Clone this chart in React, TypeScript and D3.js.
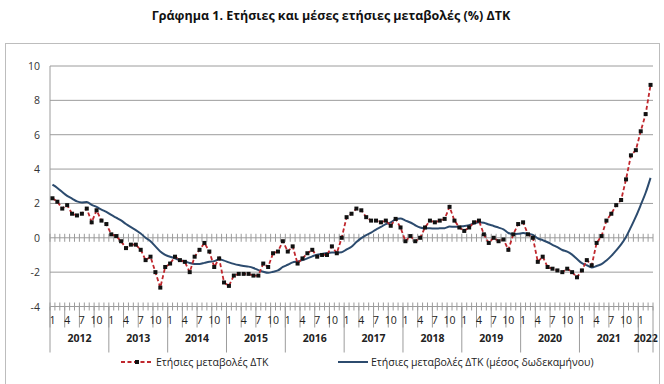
import React from "react";
import * as d3 from "d3";

// Annual % change of CPI, monthly, Jan 2012 - Mar 2022
const years = [2012, 2013, 2014, 2015, 2016, 2017, 2018, 2019, 2020, 2021, 2022];
const monthTickLabels = ["1", "4", "7", "10"];
const yTicks = [-4, -2, 0, 2, 4, 6, 8, 10];

const annualChange = [
  2.3, 2.1, 1.7, 1.9, 1.4, 1.3, 1.4, 1.7, 0.9, 1.6, 1.0, 0.8,
  0.2, 0.1, -0.2, -0.6, -0.4, -0.4, -0.7, -1.3, -1.1, -2.0, -2.9, -1.7,
  -1.5, -1.1, -1.3, -1.4, -2.0, -1.1, -0.7, -0.3, -0.8, -1.7, -1.2, -2.6,
  -2.8, -2.2, -2.1, -2.1, -2.1, -2.2, -2.2, -1.5, -1.7, -0.9, -0.8, -0.2,
  -0.8, -0.5, -1.5, -1.2, -0.9, -0.7, -1.1, -1.0, -1.0, -0.5, -0.9, 0.0,
  1.2, 1.4, 1.7, 1.6, 1.2, 1.0, 1.0, 0.9, 1.0, 0.7, 1.1, 0.6,
  -0.2, 0.1, -0.2, 0.0, 0.6, 1.0, 0.9, 1.0, 1.1, 1.8, 1.0, 0.6,
  0.4, 0.6, 0.9, 1.0, 0.2, -0.3, 0.0, -0.2, -0.1, -0.7, 0.2, 0.8,
  0.9, 0.2, 0.0, -1.4, -1.1, -1.7, -1.8, -1.9, -2.0, -1.8, -2.0, -2.3,
  -1.9, -1.3, -1.6, -0.3, 0.1, 1.0, 1.4, 1.9, 2.2, 3.4, 4.8, 5.1,
  6.2, 7.2, 8.9,
];

// 12-month average annual change
const avgChange = [
  3.09, 2.9, 2.66, 2.44, 2.28, 2.12, 2.06, 2.08, 1.92, 1.8, 1.64, 1.51,
  1.33, 1.17, 1.01, 0.8, 0.62, 0.45, 0.25, 0.0, -0.2, -0.5, -0.8, -1.0,
  -1.1, -1.2, -1.3, -1.37, -1.47, -1.52, -1.52, -1.46, -1.4, -1.36, -1.25, -1.33,
  -1.43, -1.52, -1.59, -1.64, -1.68, -1.76, -1.88, -1.98, -2.04, -1.98, -1.9, -1.7,
  -1.57, -1.43, -1.38, -1.3, -1.2, -1.08, -0.98, -0.94, -0.88, -0.85, -0.86, -0.84,
  -0.68, -0.52, -0.25, -0.02, 0.16, 0.3, 0.48, 0.63, 0.8, 0.9, 1.07, 1.12,
  1.0, 0.89, 0.73, 0.6, 0.55, 0.55, 0.54, 0.55, 0.56, 0.65, 0.64, 0.64,
  0.69, 0.73, 0.83, 0.91, 0.88, 0.77, 0.69, 0.59, 0.49, 0.28, 0.22, 0.23,
  0.28, 0.24, 0.17, -0.03, -0.14, -0.26, -0.41, -0.55, -0.71, -0.8, -0.98, -1.24,
  -1.48, -1.6, -1.73, -1.64, -1.54, -1.32, -1.05, -0.73, -0.38, 0.05, 0.62, 1.23,
  1.91, 2.62, 3.49,
];

const title = "Γράφημα 1. Ετήσιες και μέσες ετήσιες μεταβολές (%) ΔΤΚ";
const legendAnnual = "Ετήσιες μεταβολές ΔΤΚ";
const legendAvg = "Ετήσιες μεταβολές ΔΤΚ (μέσος δωδεκαμήνου)";

const width = 664;
const height = 384;
const font = "'Open Sans', 'Noto Sans', sans-serif";
const red = "#c0272d";
const navy = "#2c4b6e";
const grid = "#9c9c9c";

// categories: year-month keys
const categories = years
  .flatMap((yr) => d3.range(1, 13).map((m) => ({ year: yr, month: m, key: `${yr}-${m}` })))
  .slice(0, annualChange.length);

export default function App() {
  const x = d3
    .scaleBand()
    .domain(categories.map((c) => c.key))
    .range([50, 653])
    .paddingInner(0)
    .paddingOuter(0);
  const y = d3.scaleLinear().domain([-4, 10]).range([306.5, 66]);
  const step = x.step();
  const cx = (i) => x(categories[i].key) + step / 2;

  const redLine = d3
    .line()
    .x((d, i) => cx(i))
    .y((d) => y(d));
  const avgLine = d3
    .line()
    .x((d, i) => cx(i))
    .y((d) => y(d))
    .curve(d3.curveMonotoneX);

  const y0 = y(0);
  const yb = y(-4);
  const boundaries = d3.range(categories.length + 1).map((i) => 50 + i * step);

  // year spans
  const yearSpans = years.map((yr) => {
    const idx = categories.map((c, i) => (c.year === yr ? i : -1)).filter((i) => i >= 0);
    const x0 = x(categories[idx[0]].key);
    const x1 = x(categories[idx[idx.length - 1]].key) + step;
    return { yr, x0, x1 };
  });

  return (
    <svg
      width={width}
      height={height}
      style={{ position: "absolute", left: 0, top: 0, background: "#fff" }}
      fontFamily={font}
    >
      <text x={331} y={20} textAnchor="middle" fontSize={12.5} fontWeight="bold" fill="#111">
        {title}
      </text>
      <rect x={5.5} y={43.5} width={654} height={360} fill="none" stroke="#bdbdbd" />

      {/* gridlines + y labels */}
      {yTicks.map((t) => (
        <g key={t}>
          {t !== 0 && t !== -4 && (
            <line x1={50} x2={653} y1={y(t)} y2={y(t)} stroke={grid} strokeWidth={1} />
          )}
          <text x={40} y={y(t) + 4} textAnchor="end" fontSize={10.5} fill="#333">
            {t}
          </text>
        </g>
      ))}
      {/* y axis */}
      <line x1={50} x2={50} y1={66} y2={yb} stroke={grid} />

      {/* category axis at 0 and at -4 */}
      {[y0, yb].map((yy, k) => (
        <g key={k}>
          <line x1={50} x2={653} y1={yy} y2={yy} stroke={grid} />
          {boundaries.map((bx, i) => (
            <line key={i} x1={bx} x2={bx} y1={yy - 4} y2={yy + 4} stroke={grid} />
          ))}
        </g>
      ))}

      {/* month labels every 3 months with separators */}
      {categories.map((c, i) =>
        (c.month - 1) % 3 === 0 ? (
          <g key={c.key}>
            <line x1={x(c.key)} x2={x(c.key)} y1={yb} y2={yb + 21} stroke={grid} />
            <text x={cx(i)} y={yb + 17} textAnchor="middle" fontSize={10.5} fill="#222">
              {monthTickLabels[(c.month - 1) / 3]}
            </text>
          </g>
        ) : null
      )}

      {/* year labels */}
      {yearSpans.map((s) => (
        <g key={s.yr}>
          <line x1={s.x0} x2={s.x0} y1={yb} y2={yb + 46} stroke={grid} />
          <text
            x={(s.x0 + s.x1) / 2}
            y={yb + 35}
            textAnchor="middle"
            fontSize={10.5}
            fontWeight="bold"
            fill="#222"
          >
            {s.yr}
          </text>
        </g>
      ))}
      <line x1={653} x2={653} y1={yb} y2={yb + 46} stroke={grid} />

      {/* 12-month average */}
      <path d={avgLine(avgChange)} fill="none" stroke={navy} strokeWidth={2} />

      {/* annual change */}
      <path d={redLine(annualChange)} fill="none" stroke={red} strokeWidth={1.8} strokeDasharray="4 2.5" />
      {annualChange.map((v, i) => (
        <rect key={i} x={cx(i) - 2} y={y(v) - 2} width={4} height={4} fill="#111" />
      ))}

      {/* legend */}
      <g>
        <line x1={121} x2={153} y1={362} y2={362} stroke={red} strokeWidth={1.8} strokeDasharray="4 2.5" />
        <rect x={135} y={360} width={4} height={4} fill="#111" />
        <text x={156} y={366} fontSize={10.5} fill="#222">
          {legendAnnual}
        </text>
        <line x1={338} x2={368} y1={362} y2={362} stroke={navy} strokeWidth={2} />
        <text x={371} y={366} fontSize={10.5} fill="#222">
          {legendAvg}
        </text>
      </g>
    </svg>
  );
}
